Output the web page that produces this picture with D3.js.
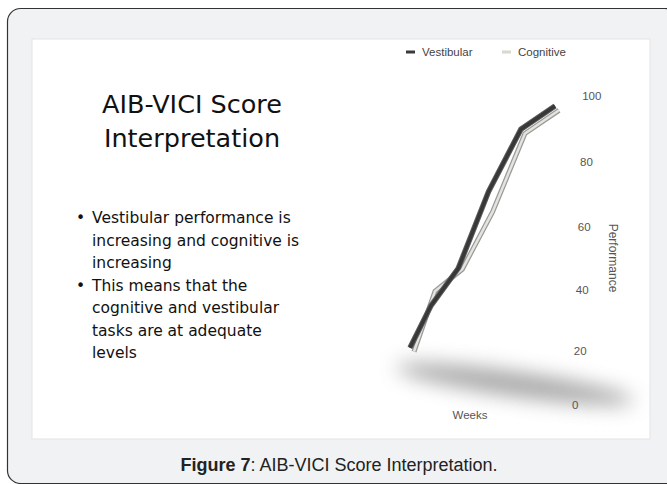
<!DOCTYPE html>
<html>
<head>
<meta charset="utf-8">
<script src="https://cdnjs.cloudflare.com/ajax/libs/d3/7.8.5/d3.min.js"></script>
<style>
  body { margin: 0; background: #fff; }
  svg { display: block; }
</style>
</head>
<body>
<script>
// data
var weeks = ["Week 1", "Week 2", "Week 3", "Week 4", "Week 5", "Week 6"];
var vestibular = [21, 35, 47, 71, 90, 97];
var cognitive = [20, 40, 47, 65, 89, 96];
var seriesNames = ["Vestibular", "Cognitive"];
var yTicks = [0, 20, 40, 60, 80, 100];
var titleLines = ["AIB-VICI Score", "Interpretation"];
var bullets = [
    ["Vestibular performance is", "increasing and cognitive is", "increasing"],
    ["This means that the", "cognitive and vestibular", "tasks are at adequate", "levels"]
];

var W = 667, H = 484;

var svg = d3.select("body").append("svg")
    .attr("width", W)
    .attr("height", H);

var defs = svg.append("defs");
defs.append("filter").attr("id", "blur")
    .attr("x", "-50%").attr("y", "-200%").attr("width", "200%").attr("height", "500%")
    .append("feGaussianBlur").attr("stdDeviation", 10);
defs.append("clipPath").attr("id", "panel")
    .append("rect").attr("x", 32).attr("y", 39).attr("width", 618).attr("height", 400);

// outer rounded frame
svg.append("rect")
    .attr("x", 7.5).attr("y", 8.5)
    .attr("width", 670).attr("height", 475)
    .attr("rx", 13)
    .attr("fill", "#f1f2f4")
    .attr("stroke", "#333")
    .attr("stroke-width", 1.2);

// white slide panel
svg.append("rect")
    .attr("x", 32).attr("y", 39)
    .attr("width", 618).attr("height", 400)
    .attr("fill", "#fff")
    .attr("stroke", "#e2e3e6")
    .attr("stroke-width", 1);

// caption
var cap = svg.append("text")
    .attr("x", 339).attr("y", 471)
    .attr("text-anchor", "middle")
    .style("font-family", "'Liberation Sans', Arial, sans-serif")
    .style("font-size", "18px")
    .attr("fill", "#222");
cap.append("tspan").style("font-weight", "bold").text("Figure 7");
cap.append("tspan").text(": AIB-VICI Score Interpretation.");

// slide title
svg.selectAll(".title")
    .data(titleLines)
    .enter().append("text")
    .attr("class", "title")
    .attr("x", 192)
    .attr("y", function(d, i) { return 113 + i * 34; })
    .attr("text-anchor", "middle")
    .style("font-family", "'DejaVu Sans', sans-serif")
    .style("font-size", "25.5px")
    .attr("fill", "#111")
    .text(function(d) { return d; });

// bullets
var lineY = 223;
bullets.forEach(function(b) {
    svg.append("text")
        .attr("x", 76).attr("y", lineY)
        .style("font-family", "'DejaVu Sans', sans-serif")
        .style("font-size", "15.5px")
        .attr("fill", "#111")
        .text("\u2022");
    b.forEach(function(line) {
        svg.append("text")
            .attr("x", 92).attr("y", lineY)
            .style("font-family", "'DejaVu Sans', sans-serif")
            .style("font-size", "15.5px")
            .attr("fill", "#111")
            .text(line);
        lineY += 22.5;
    });
});

// chart area (perspective approximated with pow scales)
var x = d3.scalePow().exponent(1.2)
    .domain([0, weeks.length - 1])
    .range([410, 555]);
var y = d3.scalePow().exponent(1.08)
    .domain([0, 100])
    .range([405, 96]);

var chart = svg.append("g").attr("clip-path", "url(#panel)");

// floor shadow
chart.append("ellipse")
    .attr("cx", 515).attr("cy", 384)
    .attr("rx", 120).attr("ry", 12)
    .attr("transform", "rotate(8 515 384)")
    .attr("fill", "#888")
    .attr("opacity", 0.75)
    .attr("filter", "url(#blur)");

var line = d3.line()
    .x(function(d, i) { return x(i); })
    .y(function(d) { return y(d); });

// cognitive sits slightly behind
var cogG = chart.append("g").attr("transform", "translate(4,1)");
cogG.append("path")
    .attr("d", line(cognitive))
    .attr("fill", "none")
    .attr("stroke", "#9a9a9a")
    .attr("stroke-width", 5);
cogG.append("path")
    .attr("d", line(cognitive))
    .attr("fill", "none")
    .attr("stroke", "#e4e4de")
    .attr("stroke-width", 2.5);

chart.append("path")
    .attr("d", line(vestibular))
    .attr("fill", "none")
    .attr("stroke", "#5e5e5e")
    .attr("stroke-width", 5.5);
chart.append("path")
    .attr("d", line(vestibular))
    .attr("fill", "none")
    .attr("stroke", "#383838")
    .attr("stroke-width", 3.5);

// y axis labels, leaning with the perspective
svg.selectAll(".ytick")
    .data(yTicks)
    .enter().append("text")
    .attr("class", "ytick")
    .attr("x", function(d) { return 572 + (405 - y(d)) * 0.033; })
    .attr("y", function(d) { return y(d) + 4; })
    .style("font-family", "'Liberation Sans', Arial, sans-serif")
    .style("font-size", "11.5px")
    .attr("fill", "#555")
    .text(function(d) { return d; });

svg.append("text")
    .attr("transform", "translate(609,258) rotate(90)")
    .attr("text-anchor", "middle")
    .style("font-family", "'Liberation Sans', Arial, sans-serif")
    .style("font-size", "12px")
    .attr("fill", "#555")
    .text("Performance");

svg.append("text")
    .attr("x", 470).attr("y", 419)
    .attr("text-anchor", "middle")
    .style("font-family", "'Liberation Sans', Arial, sans-serif")
    .style("font-size", "11.5px")
    .attr("fill", "#555")
    .text("Weeks");

// legend
var legendX = [406, 502];
var legendColor = ["#3a3a3a", "#d8d8ce"];
var legend = svg.selectAll(".legend")
    .data(seriesNames)
    .enter().append("g")
    .attr("class", "legend")
    .attr("transform", function(d, i) { return "translate(" + legendX[i] + ",52)"; });
legend.append("rect")
    .attr("x", 0).attr("y", -1.5)
    .attr("width", 9).attr("height", 3)
    .attr("fill", function(d, i) { return legendColor[i]; });
legend.append("text")
    .attr("x", 16).attr("y", 4)
    .style("font-family", "'Liberation Sans', Arial, sans-serif")
    .style("font-size", "11.5px")
    .attr("fill", "#444")
    .text(function(d) { return d; });
</script>
</body>
</html>
